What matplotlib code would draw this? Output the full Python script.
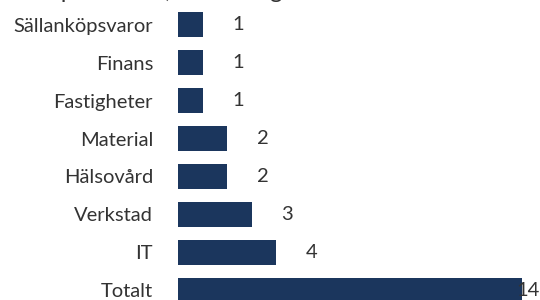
import matplotlib
matplotlib.use("Agg")
import matplotlib.pyplot as plt

# data (top to bottom as shown)
categories = ["Sällanköpsvaror", "Finans", "Fastigheter", "Material",
              "Hälsovård", "Verkstad", "IT", "Totalt"]
values = [1, 1, 1, 2, 2, 3, 4, 14]
title = "Antal positioner, fördelning"

bar_color = "#1b365d"
text_color = "#333333"
plt.rcParams["font.family"] = ["Lato", "DejaVu Sans"]

fig = plt.figure(figsize=(5.4, 3.0), dpi=100)
ax = fig.add_axes([178 / 540, 0, 1 - 178 / 540, 1])

# bottom row first so Totalt sits at the bottom
cats = categories[::-1]
vals = values[::-1]
ypos = list(range(len(cats)))
ax.barh(ypos, vals, height=0.66, color=bar_color)

xmax = 14.72
ax.set_xlim(0, xmax)
ax.set_ylim(-0.264, 7.66)

for y, v in zip(ypos, vals):
    ax.text(min(v + 1.2, xmax - 0.95), y, str(v), va="center", ha="left",
            fontsize=14.5, color=text_color)

ax.set_yticks(ypos)
ax.set_yticklabels(cats, fontsize=14.5, color=text_color)
ax.tick_params(axis="y", length=0, pad=18)
ax.set_xticks([])
for s in ax.spines.values():
    s.set_visible(False)

# title sits above the canvas, only descenders show
fig.text(0.0, 1.0 + 2 / 300, title, va="baseline", ha="left", fontsize=17,
         color=text_color)

fig.savefig("out.png", dpi=100)
